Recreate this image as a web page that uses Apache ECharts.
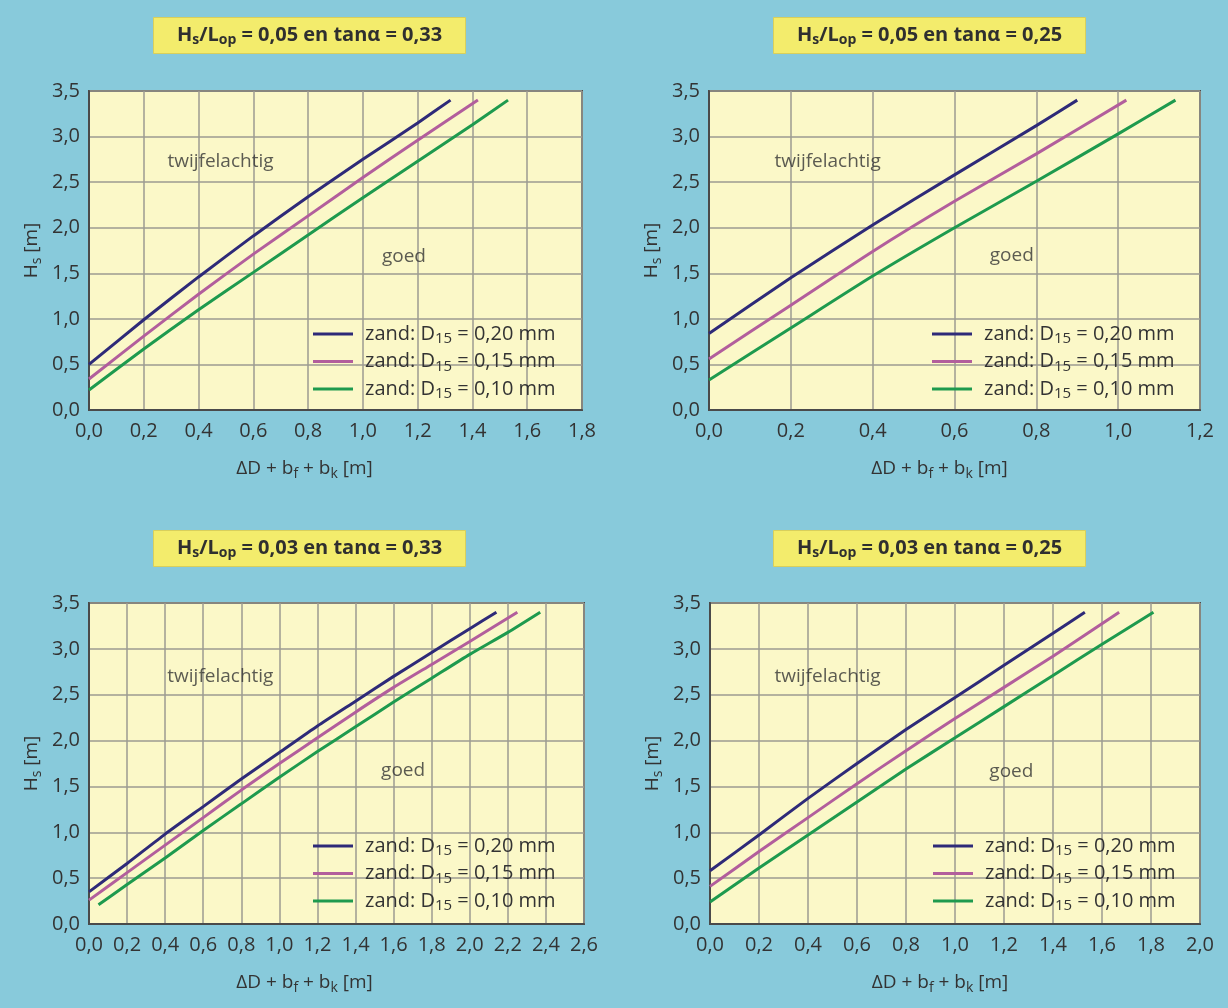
<!DOCTYPE html>
<html>
<head>
<meta charset="utf-8">
<script src="https://cdn.jsdelivr.net/npm/echarts@6/dist/echarts.min.js"></script>
<style>
  html, body { margin: 0; padding: 0; background: #88CADB; }
  #chart { width: 1228px; height: 1008px; }
</style>
</head>
<body>
<div id="chart"></div>
<script>
// ---------- DATA ----------
// Panel titles: Hs/Lop and tan(alpha)
const panelSteepness = ['0,05', '0,05', '0,03', '0,03'];
const panelSlope     = ['0,33', '0,25', '0,33', '0,25'];
// x-axis maxima per panel (ticks every 0.2), y-axis 0..3.5 every 0.5
const xAxisMax = [1.8, 1.2, 2.6, 2.0];
const yAxisMax = 3.5;
// Sand grain sizes (legend)
const sandD15 = ['0,20', '0,15', '0,10'];

// Panel A: Hs/Lop = 0,05, tan a = 0,33
const A_x20 = [0, 0.2, 0.4, 0.6, 0.8, 1.0, 1.2, 1.32];
const A_y20 = [0.50, 0.99, 1.46, 1.91, 2.34, 2.75, 3.15, 3.40];
const A_x15 = [0, 0.2, 0.4, 0.6, 0.8, 1.0, 1.2, 1.42];
const A_y15 = [0.34, 0.81, 1.27, 1.71, 2.13, 2.55, 2.96, 3.40];
const A_x10 = [0, 0.2, 0.4, 0.6, 0.8, 1.0, 1.2, 1.4, 1.53];
const A_y10 = [0.22, 0.67, 1.10, 1.51, 1.92, 2.33, 2.73, 3.13, 3.40];

// Panel B: Hs/Lop = 0,05, tan a = 0,25
const B_x20 = [0, 0.2, 0.4, 0.6, 0.8, 0.9];
const B_y20 = [0.84, 1.45, 2.03, 2.58, 3.12, 3.40];
const B_x15 = [0, 0.2, 0.4, 0.6, 0.8, 1.02];
const B_y15 = [0.56, 1.15, 1.74, 2.29, 2.81, 3.40];
const B_x10 = [0, 0.2, 0.4, 0.6, 0.8, 1.0, 1.14];
const B_y10 = [0.33, 0.90, 1.47, 2.00, 2.51, 3.03, 3.40];

// Panel C: Hs/Lop = 0,03, tan a = 0,33
const C_x20 = [0, 0.2, 0.4, 0.6, 0.8, 1.0, 1.2, 1.4, 1.6, 1.8, 2.0, 2.14];
const C_y20 = [0.35, 0.66, 0.98, 1.28, 1.58, 1.87, 2.16, 2.43, 2.70, 2.96, 3.22, 3.40];
const C_x15 = [0, 0.2, 0.4, 0.6, 0.8, 1.0, 1.2, 1.4, 1.6, 1.8, 2.0, 2.25];
const C_y15 = [0.26, 0.56, 0.86, 1.16, 1.46, 1.75, 2.03, 2.31, 2.58, 2.83, 3.08, 3.40];
const C_x10 = [0.05, 0.2, 0.4, 0.6, 0.8, 1.0, 1.2, 1.4, 1.6, 1.8, 2.0, 2.2, 2.37];
const C_y10 = [0.21, 0.43, 0.72, 1.02, 1.31, 1.60, 1.88, 2.15, 2.42, 2.68, 2.94, 3.18, 3.40];

// Panel D: Hs/Lop = 0,03, tan a = 0,25
const D_x20 = [0, 0.2, 0.4, 0.6, 0.8, 1.0, 1.2, 1.4, 1.53];
const D_y20 = [0.58, 0.97, 1.37, 1.75, 2.12, 2.47, 2.82, 3.17, 3.40];
const D_x15 = [0, 0.2, 0.4, 0.6, 0.8, 1.0, 1.2, 1.4, 1.67];
const D_y15 = [0.41, 0.79, 1.16, 1.53, 1.89, 2.24, 2.58, 2.92, 3.40];
const D_x10 = [0, 0.2, 0.4, 0.6, 0.8, 1.0, 1.2, 1.4, 1.6, 1.81];
const D_y10 = [0.24, 0.61, 0.97, 1.33, 1.69, 2.03, 2.37, 2.71, 3.05, 3.40];

// Region annotations (data coordinates): [x, y] of "twijfelachtig" and "goed"
const noteLabels = ['twijfelachtig', 'goed'];
const A_notes = [[0.48, 2.73], [1.15, 1.68]];
const B_notes = [[0.29, 2.73], [0.74, 1.69]];
const C_notes = [[0.69, 2.70], [1.65, 1.67]];
const D_notes = [[0.48, 2.70], [1.23, 1.66]];

// ---------- LAYOUT / STYLE ----------
const panels = [
  { xs: [A_x20, A_x15, A_x10], ys: [A_y20, A_y15, A_y10], notes: A_notes },
  { xs: [B_x20, B_x15, B_x10], ys: [B_y20, B_y15, B_y10], notes: B_notes },
  { xs: [C_x20, C_x15, C_x10], ys: [C_y20, C_y15, C_y10], notes: C_notes },
  { xs: [D_x20, D_x15, D_x10], ys: [D_y20, D_y15, D_y10], notes: D_notes }
];
const layout = [
  { grid: { left: 89,  top: 91,  width: 493, height: 319 }, title: [153, 17],  legend: [308, 319], xShift: 31 },
  { grid: { left: 709, top: 91,  width: 491, height: 319 }, title: [773, 17],  legend: [927, 319], xShift: 15 },
  { grid: { left: 89,  top: 603, width: 495, height: 321 }, title: [153, 530], legend: [308, 831], xShift: 32 },
  { grid: { left: 710, top: 603, width: 490, height: 321 }, title: [773, 530], legend: [928, 831], xShift: 15 }
];
const lineColors = ['#2E2A78', '#B25E9C', '#1E9A4E'];
const FONT = "'Open Sans', 'Noto Sans', sans-serif";
const TXT = '#333333';

const fmt = v => v.toFixed(1).replace('.', ',');
const seriesNames = sandD15.map(d => 'zand: D15 = ' + d + ' mm');
const zip = (xs, ys) => xs.map((x, i) => [x, ys[i]]);

const option = {
  backgroundColor: '#88CADB',
  animation: false,
  textStyle: { fontFamily: FONT },
  grid: [], xAxis: [], yAxis: [], series: [], legend: [], graphic: []
};

panels.forEach((p, i) => {
  const L = layout[i];
  option.grid.push(Object.assign({
    show: true, backgroundColor: '#FBF8C8', borderColor: '#4A4A4A', borderWidth: 2, containLabel: false
  }, L.grid));

  option.xAxis.push({
    type: 'value', gridIndex: i, min: 0, max: xAxisMax[i], interval: 0.2,
    axisLine: { show: true, lineStyle: { color: '#4A4A4A', width: 2 } },
    axisTick: { show: false },
    axisLabel: { formatter: fmt, color: TXT, fontSize: 20, margin: 11, fontFamily: FONT },
    splitLine: { show: true, lineStyle: { color: '#9C9B92', width: 1.5 } },
    name: '{m|\u0394D + b}{s|f}{m| + b}{s|k}{m| [m]}',
    nameLocation: 'middle', nameGap: 47,
    nameTextStyle: {
      padding: [0, L.xShift * 2, 0, 0],
      rich: {
        m: { fontSize: 19, color: TXT, lineHeight: 24, fontFamily: FONT },
        s: { fontSize: 14, color: TXT, lineHeight: 14, verticalAlign: 'bottom', fontFamily: FONT }
      }
    }
  });

  option.yAxis.push({
    type: 'value', gridIndex: i, min: 0, max: yAxisMax, interval: 0.5,
    axisLine: { show: true, lineStyle: { color: '#4A4A4A', width: 2 } },
    axisTick: { show: false },
    axisLabel: { formatter: fmt, color: TXT, fontSize: 20, margin: 9, fontFamily: FONT },
    splitLine: { show: true, lineStyle: { color: '#9C9B92', width: 1.5 } },
    name: '{m|H}{s|s}{m| [m]}',
    nameLocation: 'middle', nameGap: 45,
    nameTextStyle: {
      rich: {
        m: { fontSize: 19, color: TXT, lineHeight: 24, fontFamily: FONT },
        s: { fontSize: 14, color: TXT, lineHeight: 14, verticalAlign: 'bottom', fontFamily: FONT }
      }
    }
  });

  p.xs.forEach((xs, k) => {
    option.series.push({
      type: 'line', name: seriesNames[k], xAxisIndex: i, yAxisIndex: i,
      data: zip(xs, p.ys[k]), symbol: 'none', smooth: 0.2, silent: true,
      lineStyle: { color: lineColors[k], width: 3 }, itemStyle: { color: lineColors[k] }, z: 3
    });
  });

  option.series.push({
    type: 'scatter', xAxisIndex: i, yAxisIndex: i, silent: true, z: 4,
    symbolSize: 1, itemStyle: { color: 'rgba(0,0,0,0)' },
    data: p.notes.map((v, k) => ({ name: noteLabels[k], value: v })),
    label: { show: true, position: 'inside', formatter: '{b}', color: TXT, fontSize: 19, fontFamily: FONT }
  });

  option.legend.push({
    left: L.legend[0], top: L.legend[1], orient: 'vertical',
    data: seriesNames, icon: 'rect', itemWidth: 40, itemHeight: 3, itemGap: 5,
    selectedMode: false,
    formatter: name => {
      const idx = seriesNames.indexOf(name);
      return '{p|zand: D}{s|15}{t| = ' + sandD15[idx] + ' mm}';
    },
    textStyle: {
      color: TXT, fontFamily: FONT,
      rich: {
        p: { fontSize: 20, color: TXT, lineHeight: 25, padding: [0, 0, 0, 7], fontFamily: FONT },
        t: { fontSize: 20, color: TXT, lineHeight: 25, fontFamily: FONT },
        s: { fontSize: 15, color: TXT, lineHeight: 14, verticalAlign: 'bottom', fontFamily: FONT }
      }
    }
  });

  const tw = 312, th = 36;
  option.graphic.push({
    type: 'group', left: L.title[0], top: L.title[1], silent: true,
    children: [
      { type: 'rect', shape: { x: 0, y: 0, width: tw, height: th },
        style: { fill: '#F3EC6C', stroke: '#D8CF5C', lineWidth: 1 } },
      { type: 'text', x: tw / 2, y: th / 2,
        style: {
          text: '{b|H}{s|s}{b|/L}{s|op}{b| = ' + panelSteepness[i] + ' en tan\u03B1 = ' + panelSlope[i] + '}',
          align: 'center', verticalAlign: 'middle',
          rich: {
            b: { fontSize: 20, fontWeight: 'bold', fill: '#2F2F2F', lineHeight: 24, fontFamily: FONT },
            s: { fontSize: 14, fontWeight: 'bold', fill: '#2F2F2F', lineHeight: 14, verticalAlign: 'bottom', fontFamily: FONT }
          }
        } }
    ]
  });
});

const chart = echarts.init(document.getElementById('chart'), null, { renderer: 'canvas' });
chart.setOption(option);
</script>
</body>
</html>
